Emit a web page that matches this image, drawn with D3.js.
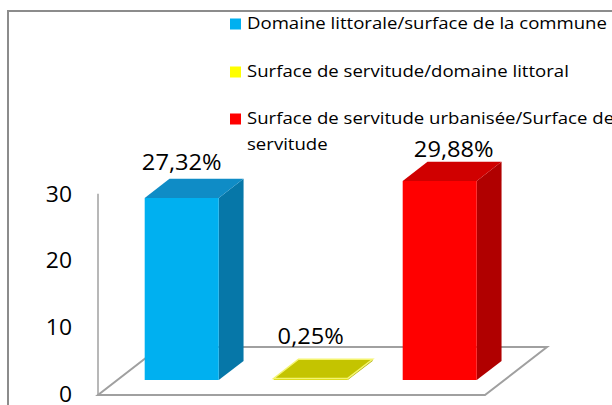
<!DOCTYPE html>
<html><head><meta charset="utf-8">
<script src="https://cdn.jsdelivr.net/npm/d3@7"></script>
<style>body{margin:0;background:#fff}svg{display:block}</style>
</head><body><svg id="c" width="612" height="405"></svg>
<script>
const categories = ["Domaine littorale/surface de la commune", "Surface de servitude/domaine littoral", "Surface de servitude urbanisée/Surface de servitude"];
const values = [27.32, 0.25, 29.88];
const valueLabels = ["27,32%", "0,25%", "29,88%"];
const yTicks = [0, 10, 20, 30];
const legendLines = [["Domaine littorale/surface de la commune"], ["Surface de servitude/domaine littoral"], ["Surface de servitude urbanisée/Surface de", "servitude"]];

const frontCol = ["#00b0f0", "#d8d800", "#ff0000"];
const sideCol = ["#0677a8", "#a8a800", "#b00000"];
const topCol = ["#0f8cc6", "#c4c400", "#d00000"];
const legendCol = ["#00b0f0", "#ffff00", "#ff0000"];

const svg = d3.select("#c");
const font = "'Open Sans', sans-serif";

// border
svg.append("rect").attr("x", 8).attr("y", 11).attr("width", 700).attr("height", 500)
  .attr("fill", "#fff").attr("stroke", "#8c8c8c").attr("stroke-width", 2);

const x = d3.scaleBand().domain(categories).range([98, 485]).paddingInner(0.426).paddingOuter(0.213);
const y = d3.scaleLinear().domain([0, 30]).range([395, 195]);
const DX = 62, DY = -48; // floor depth vector
const fFront = 0.31, fBack = 0.71;
const P = (px, v, f) => [px + DX * f, y(v) + DY * f];

// floor
const x0 = x.range()[0], x1 = x.range()[1];
const floorPts = [P(x0, 0, 0), P(x1, 0, 0), P(x1, 0, 1), P(x0, 0, 1)];
svg.append("polygon").attr("points", floorPts.map(p => p.join(",")).join(" "))
  .attr("fill", "#fff").attr("stroke", "#a0a0a0").attr("stroke-width", 2);
// vertical axis line
svg.append("line").attr("x1", x0).attr("x2", x0).attr("y1", y(0)).attr("y2", y(30.2))
  .attr("stroke", "#a0a0a0").attr("stroke-width", 1.5);

// y tick labels
svg.selectAll("text.tick").data(yTicks).join("text").attr("class", "tick")
  .attr("transform", d => `translate(72,${y(d) - 1}) scale(1.09,1)`)
  .attr("dy", "0.36em").attr("text-anchor", "end")
  .attr("font-family", font).attr("font-size", 21).attr("fill", "#000").text(d => d);

// bars
const g = svg.append("g");
const poly = pts => pts.map(p => p.join(",")).join(" ");
categories.forEach((c, i) => {
  const xl = x(c), xr = x(c) + x.bandwidth(), v = values[i];
  g.append("polygon").attr("points", poly([P(xr, 0, fFront), P(xr, 0, fBack), P(xr, v, fBack), P(xr, v, fFront)]))
    .attr("fill", sideCol[i]);
  g.append("polygon").attr("points", poly([P(xl, 0, fFront), P(xr, 0, fFront), P(xr, v, fFront), P(xl, v, fFront)]))
    .attr("fill", frontCol[i]);
  g.append("polygon").attr("points", poly([P(xl, v, fFront), P(xr, v, fFront), P(xr, v, fBack), P(xl, v, fBack)]))
    .attr("fill", topCol[i]).attr("stroke", i === 1 ? "#f4f470" : "none").attr("stroke-width", i === 1 ? 1.5 : 0);
});

// value labels
const labelNudge = [[0, -9], [0, -15], [14, -5]];
svg.selectAll("text.val").data(values).join("text").attr("class", "val")
  .attr("transform", (d, i) => {
    const cx = P(x(categories[i]) + x.bandwidth() / 2, d, fFront)[0] + labelNudge[i][0];
    const cy = P(0, d, fBack)[1] + labelNudge[i][1];
    return `translate(${cx},${cy}) scale(1.1,1)`;
  })
  .attr("text-anchor", "middle").attr("font-family", font).attr("font-size", 21.5).attr("fill", "#000")
  .text((d, i) => valueLabels[i]);

// legend
const leg = svg.append("g");
const rowY = [24, 72, 119];
const legText = leg.append("g");
legendLines.forEach((lines, i) => {
  leg.append("rect").attr("x", 230).attr("y", rowY[i] - 5.5).attr("width", 11).attr("height", 11).attr("fill", legendCol[i]);
  lines.forEach((t, j) => {
    legText.append("text").attr("x", 0).attr("y", rowY[i] + 5.5 + j * 26)
      .attr("font-family", font).attr("font-size", 15.5).attr("fill", "#000").text(t);
  });
});
const w0 = legText.select("text").node().getComputedTextLength();
const k = 360 / w0;
legText.attr("transform", `translate(247,0) scale(${k},1)`);
</script></body></html>
